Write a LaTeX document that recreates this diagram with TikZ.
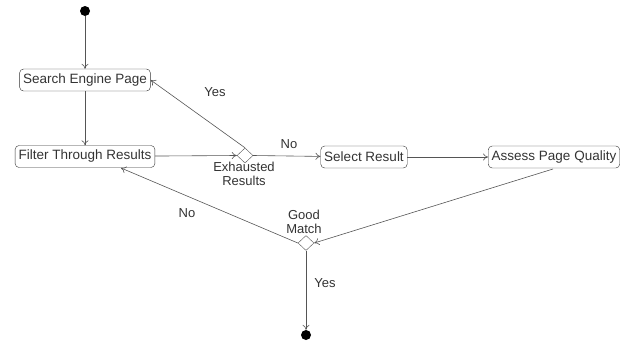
\documentclass[tikz,border=0pt]{standalone}
\usepackage{fontspec}
\setmainfont{Liberation Sans}
\usetikzlibrary{shapes.geometric}
\usetikzlibrary{arrows.meta}

\definecolor{linegray}{HTML}{555555}
\definecolor{textgray}{HTML}{333333}

\tikzset{
  actbox/.style={draw=textgray, rounded corners=4pt, minimum height=22pt, inner xsep=3.5pt, inner ysep=0pt},
  choice/.style={draw=linegray, diamond, minimum width=16pt, minimum height=15pt, inner sep=0pt},
  dot/.style={circle, fill=black, minimum size=10pt, inner sep=0pt},
  flow/.style={draw=linegray, line width=0.6pt, -{To[length=5pt,width=7pt]}},
  lbl/.style={text=textgray, align=center, font=\fontsize{13}{16}\selectfont}
}

\begin{document}
\begin{tikzpicture}[x=1pt, y=-1pt, text=textgray, font=\fontsize{13.5}{16}\selectfont]
  \useasboundingbox (0,0) rectangle (626,343);
  %% activity nodes
  \node[dot] (start) at (85,11) {};
  \node[actbox] (search) at (85,80) {Search Engine Page};
  \node[actbox] (filter) at (85,156.5) {Filter Through Results};
  \node[choice] (exhausted) at (245,155.5) {};
  \node[actbox] (select) at (364,157) {Select Result};
  \node[actbox] (assess) at (554,157) {Assess Page Quality};
  \node[choice] (good) at (306,243) {};
  \node[dot] (stop) at (306,335) {};
  \coordinate (filterin) at (121,168);
  \coordinate (assessout) at (553,169);
  %% labels
  \node[lbl] (exhaustedlbl) at (244,174) {Exhausted\\[-2pt]Results};
  \node[lbl] (goodlbl) at (304,222) {Good\\[-2pt]Match};
  \node[lbl] (yesup) at (215,92) {Yes};
  \node[lbl] (noright) at (289,144) {No};
  \node[lbl] (noleft) at (187,213) {No};
  \node[lbl] (yesdown) at (325,283) {Yes};
  %% connectors
  \draw[flow] (start) -- (search);
  \draw[flow] (search) -- (filter);
  \draw[flow] (filter) -- (exhausted.west);
  \draw[flow] (exhausted.north) -- (search.east);
  \draw[flow] (exhausted.east) -- (select);
  \draw[flow] (select) -- (assess);
  \draw[flow] (assessout) -- (good.east);
  \draw[flow] (good.west) -- (filterin);
  \draw[flow] (good.south) -- (stop);
\end{tikzpicture}
\end{document}
